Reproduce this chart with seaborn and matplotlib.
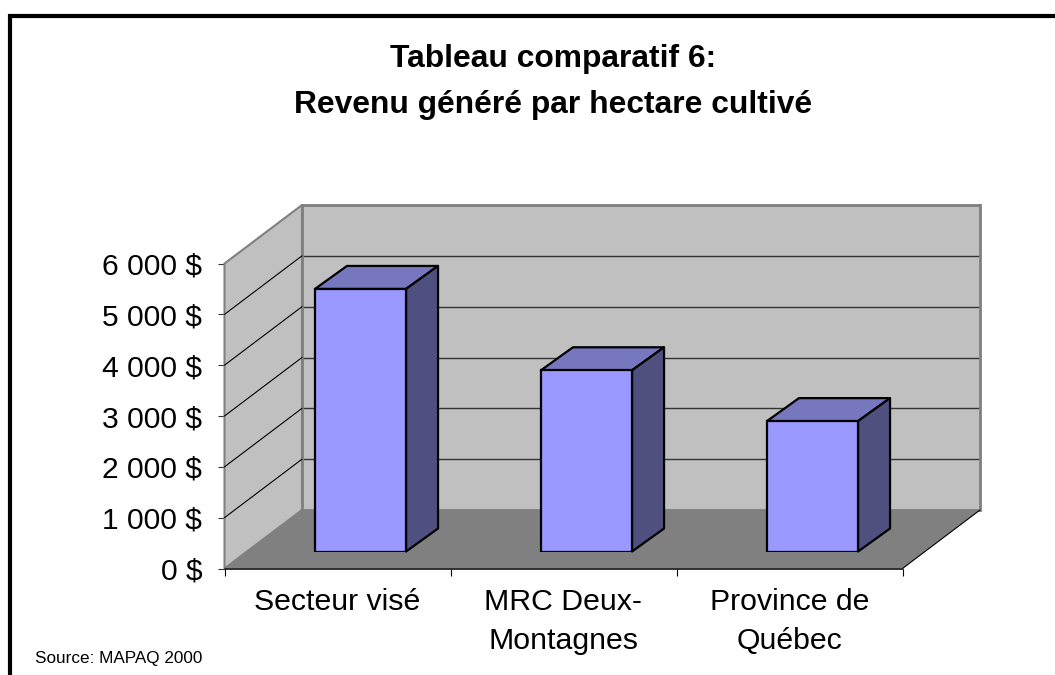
import matplotlib
matplotlib.use('Agg')
import matplotlib.pyplot as plt
from matplotlib.lines import Line2D
from matplotlib.patches import Polygon
from matplotlib.transforms import IdentityTransform
import numpy as np
import seaborn as sns

categories = ['Secteur visé', 'MRC Deux-\nMontagnes', 'Province de\nQuébec']
revenus = [5165, 3565, 2565]
y_ticks = [0, 1000, 2000, 3000, 4000, 5000, 6000]
y_labels = ['0 $', '1 000 $', '2 000 $', '3 000 $', '4 000 $', '5 000 $', '6 000 $']

W, H = 1055, 675

sns.set_style('white')
plt.rcParams['font.family'] = ['Liberation Sans', 'DejaVu Sans']

fig = plt.figure(figsize=(W / 100, H / 100), dpi=100, facecolor='white')


def axes_px(left, top, right, bottom):
    # axes placed from pixel positions, y counted from the top of the image
    ax = fig.add_axes([left / W, 1 - bottom / H, (right - left) / W, (bottom - top) / H])
    ax.set_xlim(-0.5, 2.5)
    ax.set_ylim(0, 6000)
    return ax


def shifted(ax, points, dx, dy):
    # data points to display points, pushed back along the depth direction
    return ax.transData.transform(points) + np.array([dx, dy])


# depth of the floor and of the bars, in pixels
floor_dx, floor_dy = 77.5, 58.5
bar_dx, bar_dy = 32, 23
gap_dx, gap_dy = 23, 17

# back wall
ax_back = axes_px(302, 205, 979.5, 510)
ax_back.set_facecolor('#C0C0C0')
ax_back.set_yticks(y_ticks)
ax_back.set_xticks([])
ax_back.set_yticklabels([])
ax_back.tick_params(length=0)
ax_back.grid(axis='y', color='#333333', linewidth=1)
for name, spine in ax_back.spines.items():
    spine.set_color('#808080')
    spine.set_linewidth(2)

# front plane: axis, side wall and floor
ax = axes_px(224.5, 263.5, 902.5, 568.5)
ax.patch.set_alpha(0)
ax.set_yticks(y_ticks)
ax.set_yticklabels(y_labels, fontsize=21.6, color='black')
ax.set_xticks([-0.5, 0.5, 1.5, 2.5])
ax.set_xticklabels([])
ax.set_xticks([0, 1, 2], minor=True)
ax.set_xticklabels(categories, minor=True, fontsize=21.8, color='black', linespacing=1.52)
ax.tick_params(axis='y', length=5, width=0.8, color='#333333', pad=11, left=True)
ax.tick_params(axis='x', which='major', length=5, width=0.8, color='black', bottom=True)
ax.tick_params(axis='x', which='minor', length=0, pad=14)
for name, spine in ax.spines.items():
    spine.set_visible(False)

wall = shifted(ax, [(-0.5, 0), (-0.5, 6000)], 0, 0).tolist()
wall += shifted(ax, [(-0.5, 6000), (-0.5, 0)], floor_dx, floor_dy).tolist()
ax.add_patch(Polygon(wall, closed=True, transform=IdentityTransform(), facecolor='#C0C0C0',
                     edgecolor='#808080', linewidth=1.5, clip_on=False, zorder=1))
floor = shifted(ax, [(-0.5, 0), (2.5, 0)], 0, 0).tolist()
floor += shifted(ax, [(2.5, 0), (-0.5, 0)], floor_dx, floor_dy).tolist()
ax.add_patch(Polygon(floor, closed=True, transform=IdentityTransform(), facecolor='#808080',
                     edgecolor='none', clip_on=False, zorder=1.5))
for t in y_ticks[1:-1]:
    a = shifted(ax, [(-0.5, t)], 0, 0)[0]
    b = shifted(ax, [(-0.5, t)], floor_dx, floor_dy)[0]
    ax.add_line(Line2D([a[0], b[0]], [a[1], b[1]], transform=IdentityTransform(),
                       color='black', linewidth=0.8, clip_on=False, zorder=2))
a = shifted(ax, [(2.5, 0)], 0, 0)[0]
b = shifted(ax, [(2.5, 0)], floor_dx, floor_dy)[0]
ax.add_line(Line2D([a[0], b[0]], [a[1], b[1]], transform=IdentityTransform(),
                   color='black', linewidth=0.8, clip_on=False, zorder=2))
ax.add_line(Line2D([-0.5, 2.5], [0, 0], color='#222222', linewidth=1.3, clip_on=False, zorder=3))

# bars: seaborn draws the front faces, top and side come from each patch
ax_bar = axes_px(224.5 + gap_dx, 263.5 - gap_dy, 902.5 + gap_dx, 568.5 - gap_dy)
ax_bar.patch.set_alpha(0)
sns.barplot(x=list(range(3)), y=revenus, ax=ax_bar, color='#9999FF', saturation=1,
            width=0.403, edgecolor='black', linewidth=1.6, zorder=3)
ax_bar.set_xlim(-0.5, 2.5)
ax_bar.set_ylim(0, 6000)
ax_bar.axis('off')
for bar in ax_bar.patches[:3]:
    x0, x1 = bar.get_x(), bar.get_x() + bar.get_width()
    h = bar.get_height()
    top = shifted(ax_bar, [(x0, h), (x1, h)], 0, 0).tolist()
    top += shifted(ax_bar, [(x1, h), (x0, h)], bar_dx, bar_dy).tolist()
    side = shifted(ax_bar, [(x1, 0), (x1, h)], 0, 0).tolist()
    side += shifted(ax_bar, [(x1, h), (x1, 0)], bar_dx, bar_dy).tolist()
    ax_bar.add_patch(Polygon(top, closed=True, transform=IdentityTransform(), facecolor='#7777BF',
                             edgecolor='black', linewidth=1.6, joinstyle='round',
                             clip_on=False, zorder=2))
    ax_bar.add_patch(Polygon(side, closed=True, transform=IdentityTransform(), facecolor='#4F4F80',
                             edgecolor='black', linewidth=1.6, joinstyle='round',
                             clip_on=False, zorder=2))

# frame: only the left and top edges show
fig.add_artist(Line2D([10 / W, 10 / W, 1], [0, 1 - 16 / H, 1 - 16 / H], color='black',
                      linewidth=3, solid_joinstyle='miter'))

fig.text(553 / W, 1 - 59.5 / H, 'Tableau comparatif 6:', ha='center', va='center',
         fontsize=22.9, fontweight='bold', color='black')
fig.text(553 / W, 1 - 105.5 / H, 'Revenu généré par hectare cultivé', ha='center', va='center',
         fontsize=22.9, fontweight='bold', color='black')
fig.text(35 / W, 1 - 658 / H, 'Source: MAPAQ 2000', ha='left', va='center',
         fontsize=12.3, color='black')

fig.savefig('out.png', dpi=100)
